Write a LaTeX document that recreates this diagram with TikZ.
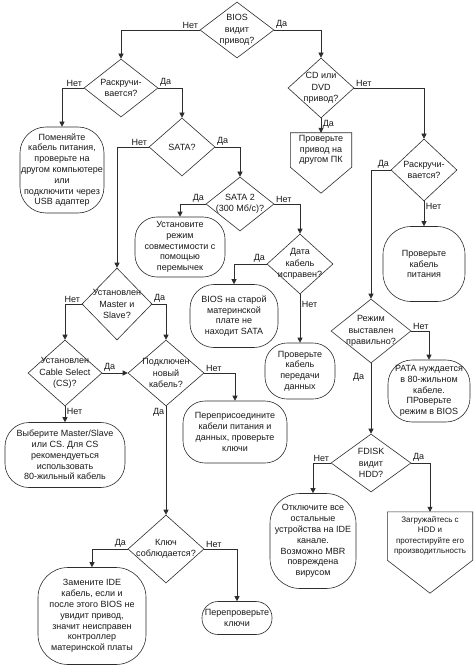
\documentclass[tikz,border=0pt]{standalone}
\usepackage{fontspec}
\setmainfont{Liberation Sans}
\usepackage{tikz}
\usetikzlibrary{arrows.meta,shapes.geometric,calc}
\definecolor{figline}{RGB}{45,45,45}
\definecolor{figtext}{RGB}{25,25,25}
\tikzset{
  dec/.style ={draw=figline, line width=0.6pt, diamond, inner sep=0pt},
  dtx/.style ={font=\fontsize{9}{11.5}\selectfont, align=center, text=figtext, inner sep=0pt},
  trm/.style ={draw=figline, line width=0.6pt, rounded corners=16pt, align=center, inner sep=1pt,
               font=\fontsize{9}{10.8}\selectfont, text=figtext},
  pgx/.style ={align=center, inner sep=1pt, font=\fontsize{9}{10.5}\selectfont, text=figtext},
  sc/.style  ={draw=figline, line width=0.6pt},
  lbl/.style ={font=\fontsize{9}{10}\selectfont, text=figtext, inner sep=1.5pt},
  arr/.style ={draw=figline, line width=0.6pt, -{Triangle[length=5pt,width=5pt]}},
}

\begin{document}
\begin{tikzpicture}[x=1pt,y=1pt]
  \fill[white] (0,0) rectangle (474,-668);
  \useasboundingbox (0,0) rectangle (474,-668);
  % decisions
  \node[dec,minimum width=74,minimum height=56,label={[dtx]center:{BIOS\\видит\\привод?}}] (bios) at (237,-30) {};
  \node[dec,minimum width=74,minimum height=58,label={[dtx]center:{Раскручи-\\вается?}}] (spin1) at (121,-88) {};
  \node[dec,minimum width=66,minimum height=60,label={[dtx]center:{CD или\\DVD\\привод?}}] (cd) at (321,-88) {};
  \node[dec,minimum width=66,minimum height=58,label={[dtx]center:{SATA?}}] (sata) at (182,-147) {};
  \node[dec,minimum width=68,minimum height=54,label={[dtx]center:{SATA 2\\(300 Мб/с)?}}] (sata2) at (240,-204) {};
  \node[dec,minimum width=66,minimum height=62,label={[dtx]center:{Раскручи-\\вается?}}] (spin2) at (424,-170) {};
  \node[dec,minimum width=66,minimum height=60,label={[dtx]center:{Дата\\кабель\\исправен?}}] (dcab) at (300,-264) {};
  \node[dec,minimum width=70,minimum height=72,label={[dtx]center:{Установлен\\Master и\\Slave?}}] (ms) at (117,-304) {};
  \node[dec,minimum width=80,minimum height=64,label={[dtx]center:{Режим\\выставлен\\правильно?}}] (mode) at (371,-331) {};
  \node[dec,minimum width=74,minimum height=66,label={[dtx]center:{Установлен\\Cable Select\\(CS)?}}] (cs) at (65,-373) {};
  \node[dec,minimum width=76,minimum height=66,label={[dtx]center:{Подключен\\новый\\кабель?}}] (newcab) at (166,-373) {};
  \node[dec,minimum width=80,minimum height=58,label={[dtx]center:{FDISK\\видит\\HDD?}}] (fdisk) at (371,-463) {};
  \node[dec,minimum width=76,minimum height=68,label={[dtx]center:{Ключ\\соблюдается?}}] (key) at (166,-549) {};
  % actions
  \node[trm,rounded corners=26pt,minimum width=84,minimum height=86] (swap) at (62,-170)
    {Поменяйте\\кабель питания,\\проверьте на\\другом компьютере\\или\\подключити через\\USB адаптер};
  \node[trm,rounded corners=22pt,minimum width=90,minimum height=60] (jumper) at (180,-247)
    {Установите\\режим\\совместимости с\\помощью\\перемычек};
  \node[trm,rounded corners=24pt,minimum width=88,minimum height=63] (oldbios) at (234,-316)
    {BIOS на старой\\материнской\\плате не\\находит SATA};
  \node[trm,rounded corners=22pt,minimum width=70,minimum height=56] (chkdata) at (300,-371)
    {Проверьте\\кабель\\передачи\\данных};
  \node[trm,rounded corners=28pt,minimum width=82,minimum height=75] (chkpwr) at (424,-264)
    {Проверьте\\кабель\\питания};
  \node[trm,rounded corners=24pt,minimum width=82,minimum height=62] (pata) at (429,-391)
    {PATA нуждается\\в 80-жильном\\кабеле.\\ПРоверьте\\режим в BIOS};
  \node[trm,rounded corners=24pt,minimum width=120,minimum height=65] (choose) at (65,-455)
    {Выберите Master/Slave\\или CS. Для CS\\рекомендуеться\\использовать\\80-жильный кабель};
  \node[trm,rounded corners=22pt,minimum width=104,minimum height=62] (recon) at (235,-432)
    {Переприсоедините\\кабели питания и\\данных, проверьте\\ключи};
  \node[trm,rounded corners=30pt,minimum width=86,minimum height=95] (off) at (313,-541)
    {Отключите все\\остальные\\устройства на IDE\\канале.\\Возможно MBR\\повреждена\\вирусом};
  \node[trm,rounded corners=30pt,minimum width=108,minimum height=97] (replace) at (92,-616)
    {Замените IDE\\кабель, если и\\после этого BIOS не\\увидит привод,\\значит неисправен\\контроллер\\материнской платы};
  \node[trm,rounded corners=16pt,minimum width=70,minimum height=33] (recheck) at (237,-618)
    {Перепроверьте\\ключи};
  % off-page shapes
  \node[pgx,minimum width=61,minimum height=34] (otherpc) at (321,-150)
    {Проверьте\\привод на\\другом ПК};
  \draw[sc] (otherpc.north west) -- (otherpc.north east) -- (otherpc.south east)
    -- ($(otherpc.south)+(0,-26)$) -- (otherpc.south west) -- cycle;
  \node[pgx,font=\fontsize{8}{10.3}\selectfont,minimum width=85,minimum height=48] (boot) at (430,-536)
    {Загружайтесь с\\HDD и\\протестируйте его\\производитльность};
  \draw[sc] (boot.north west) -- (boot.north east) -- (boot.south east)
    -- ($(boot.south)+(0,-33)$) -- (boot.south west) -- cycle;
  % connectors
  \draw[arr] (bios.west) node[lbl,above left]{Нет} -| (spin1.north);
  \draw[arr] (bios.east) node[lbl,above right]{Да} -| (cd.north);
  \draw[arr] (spin1.west) node[lbl,above left]{Нет} -| (swap.north);
  \draw[arr] (spin1.east) node[lbl,above right]{Да} -| (sata.north);
  \draw[arr] (cd.east) node[lbl,above right]{Нет} -| (spin2.north);
  \draw[arr] (cd.south) node[lbl,below right]{Да} -- (otherpc.north);
  \draw[arr] (sata.west) node[lbl,above left]{Нет} -| (ms.north);
  \draw[arr] (sata.east) node[lbl,above right]{Да} -| (sata2.north);
  \draw[arr] (sata2.west) node[lbl,above left]{Да} -| (jumper.north);
  \draw[arr] (sata2.east) node[lbl,above right]{Нет} -| (dcab.north);
  \draw[arr] (dcab.west) node[lbl,above left]{Да} -| (oldbios.north);
  \draw[arr] (dcab.south) -- node[lbl,right,pos=0.2]{Нет} (chkdata.north);
  \draw[arr] (spin2.west) node[lbl,above left]{Да} -| (mode.north);
  \draw[arr] (spin2.south) node[lbl,below right]{Нет} -- (chkpwr.north);
  \draw[arr] (mode.east) node[lbl,above right]{Нет} -| (pata.north);
  \draw[arr] (mode.south) -- node[lbl,left,pos=0.2,xshift=-5pt]{Да} (fdisk.north);
  \draw[arr] (fdisk.west) node[lbl,above left]{Нет} -| (off.north);
  \draw[arr] (fdisk.east) node[lbl,above right]{Да} -| (boot.north);
  \draw[arr] (ms.west) node[lbl,above left]{Нет} -| (cs.north);
  \draw[arr] (ms.east) node[lbl,above right]{Да} -| (newcab.north);
  \draw[arr] (cs.east) node[lbl,above right]{Да} -- (newcab.west);
  \draw[arr] (cs.south) node[lbl,below right]{Нет} -- (choose.north);
  \draw[arr] (newcab.east) node[lbl,above right]{Нет} -| (recon.north);
  \draw[arr] (newcab.south) node[lbl,below left]{Да} -- (key.north);
  \draw[arr] (key.west) node[lbl,above left]{Да} -| (replace.north);
  \draw[arr] (key.east) node[lbl,above right]{Нет} -| (recheck.north);
\end{tikzpicture}
\end{document}
